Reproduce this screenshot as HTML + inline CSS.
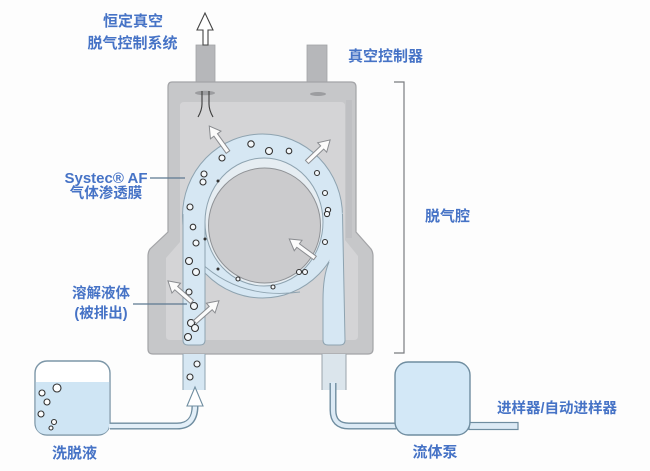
<!DOCTYPE html>
<html><head><meta charset="utf-8"><style>
html,body{margin:0;padding:0;background:#fdfdfd;}
svg{display:block;}
text{font-family:"Liberation Sans","Noto Sans CJK SC",sans-serif;font-weight:bold;fill:#4673c6;}
</style></head><body>
<svg width="650" height="471" viewBox="0 0 650 471" xmlns="http://www.w3.org/2000/svg">
<defs>
<g id="arr"><polygon points="0,-2.2 21,-2.2 21,-6.5 32,0 21,6.5 21,2.2 0,2.2" fill="#fbfbfb" stroke="#8a8c90" stroke-width="1"/></g>
</defs>
<rect width="650" height="471" fill="#fdfdfd"/>

<!-- top tubes -->
<rect x="196" y="45" width="19" height="40" fill="#b6b7ba" stroke="#a2a3a6" stroke-width="0.8"/>
<rect x="307" y="45" width="20" height="40" fill="#b6b7ba" stroke="#a2a3a6" stroke-width="0.8"/>
<!-- top arrow -->
<polygon points="203,45 203,30 197,30 205,13 213,30 208,30 208,45" fill="#fff" stroke="#444" stroke-width="1.1"/>

<!-- chamber -->
<path d="M172,82 H351 Q356,82 356,87 V232 L371,249 Q373,252 373,256 V349 Q373,354 368,354 H153 Q148,354 148,349 V256 Q148,252 150,249 L168,232 V87 Q168,82 172,82 Z" fill="#c6c7c9" stroke="#a3a4a7" stroke-width="1.2"/>
<path d="M184,102 H341 Q345,102 345,106 V240 L358,256 V336 Q358,340 354,340 H170 Q166,340 166,336 V258 L180,242 V106 Q180,102 184,102 Z" fill="#d4d4d6"/>
<rect x="346" y="100" width="6" height="138" fill="#bfc0c3"/>

<!-- funnel & slot -->
<ellipse cx="205" cy="93" rx="10" ry="2.3" fill="#9c9da0"/>
<path d="M202,91 V104 Q202,110 198,117 M209,91 V104 Q209,110 213,117" fill="none" stroke="#3c3c3c" stroke-width="1.1"/>
<ellipse cx="318" cy="94" rx="8" ry="2" fill="#9c9da0"/>

<!-- ring outer -->
<ellipse cx="262.5" cy="216" rx="80" ry="82" fill="#d6e7f3" stroke="#8ea3b0" stroke-width="1"/>
<!-- second coil edge along bottom -->
<path d="M200,262 Q240,300 300,292" fill="none" stroke="#8ea3b0" stroke-width="0.9"/>
<!-- left tube -->
<path d="M183,216 V340 Q183,345 188,345 H200 Q205,345 205,340 V222 Z" fill="#d6e7f3"/>
<line x1="183" y1="214" x2="183" y2="340" stroke="#8ea3b0" stroke-width="1"/>
<line x1="205" y1="222" x2="205" y2="340" stroke="#8ea3b0" stroke-width="1"/>
<path d="M183,340 Q183,345 188,345 H200 Q205,345 205,340" fill="none" stroke="#8ea3b0" stroke-width="1"/>
<!-- right tube -->
<path d="M342.5,212 L345,340 Q345,345 340,345 H328 Q323,345 323,340 V300 Q323,276 329,262 Z" fill="#d6e7f3"/>
<path d="M342.5,214 L345,340 Q345,345 340,345 H328 Q323,345 323,340 V300 Q323,276 329,262" fill="none" stroke="#8ea3b0" stroke-width="1"/>
<!-- inner band edge + crescent -->
<ellipse cx="264" cy="222" rx="59" ry="64" fill="#e6edf2" stroke="#8ea3b0" stroke-width="1"/>
<ellipse cx="264.5" cy="225.5" rx="56" ry="57.5" fill="#cbcbcd" stroke="#8f9296" stroke-width="1"/>

<!-- bottom tubes outside -->
<rect x="183" y="354" width="22" height="36" fill="#d6e7f3"/>
<line x1="183" y1="354" x2="183" y2="390" stroke="#8ea3b0"/>
<line x1="205" y1="354" x2="205" y2="390" stroke="#8ea3b0"/>
<rect x="322" y="354" width="24" height="36" fill="#dbe5ec"/>
<line x1="322" y1="354" x2="322" y2="390" stroke="#9aa3aa"/>
<line x1="346" y1="354" x2="346" y2="390" stroke="#9aa3aa"/>

<!-- bubbles -->
<g fill="#f4f8fb" stroke="#333" stroke-width="1.1">
<circle cx="251" cy="144" r="3.2"/><circle cx="269" cy="151" r="3.5"/><circle cx="289" cy="151" r="2.8"/>
<circle cx="222" cy="158" r="3"/><circle cx="204" cy="174" r="3"/><circle cx="203" cy="182" r="3"/>
<circle cx="190" cy="207" r="3"/><circle cx="193" cy="227" r="2.8"/><circle cx="317" cy="173" r="2.5"/>
<circle cx="325" cy="193" r="2.5"/><circle cx="328" cy="210" r="2.6"/><circle cx="327" cy="214" r="2.6"/>
<circle cx="325" cy="242" r="2.5"/><circle cx="299" cy="272" r="2.5"/><circle cx="305" cy="272" r="2.5"/>
<circle cx="196" cy="243" r="3"/><circle cx="189" cy="261" r="3.5"/><circle cx="196" cy="272" r="3.5"/>
<circle cx="189" cy="292" r="3"/><circle cx="194" cy="306" r="3.5"/><circle cx="191" cy="323" r="3.5"/>
<circle cx="195" cy="328" r="3.5"/><circle cx="188" cy="337" r="3.5"/><circle cx="197" cy="364" r="3"/>
<circle cx="190" cy="377" r="3"/><circle cx="238" cy="279" r="2"/><circle cx="273" cy="287" r="2"/>
</g>
<g fill="#333"><circle cx="218" cy="181" r="1.5"/><circle cx="205" cy="239" r="1.5"/><circle cx="218" cy="269" r="1.5"/></g>

<!-- diagonal arrows -->
<use href="#arr" transform="translate(228,152) rotate(-125.8)"/>
<use href="#arr" transform="translate(307,162) rotate(-43.7)"/>
<use href="#arr" transform="translate(315,258) rotate(-143.5)"/>
<use href="#arr" transform="translate(192,302) rotate(-138.7)"/>
<use href="#arr" transform="translate(195,322) rotate(-41.6)"/>

<!-- bracket -->
<path d="M394,82 H404 V353 H394" fill="none" stroke="#7a7c80" stroke-width="1.2"/>
<!-- leaders -->
<line x1="150" y1="178" x2="185" y2="178" stroke="#5d7891" stroke-width="1.3"/>
<line x1="133" y1="304" x2="187" y2="304" stroke="#5d7891" stroke-width="1.3"/>

<!-- reservoir -->
<rect x="35" y="361" width="75" height="74" rx="12" fill="#fff" stroke="#7d97a8" stroke-width="1.4"/>
<path d="M35.7,382 H109.3 V423 Q109.3,434.3 98,434.3 H47 Q35.7,434.3 35.7,423 Z" fill="#cfe5f4"/>
<g fill="#fff" stroke="#333" stroke-width="1.1">
<circle cx="57" cy="388" r="4"/><circle cx="42" cy="393" r="3"/><circle cx="47" cy="402" r="3"/>
<circle cx="41" cy="414" r="3"/><circle cx="54" cy="422" r="2.5"/><circle cx="51" cy="428" r="2"/>
</g>
<!-- left pipe -->
<path d="M110,426 H177 Q195,426 195,406" fill="none" stroke="#6f8da0" stroke-width="7"/>
<path d="M109,426 H177 Q195,426 195,405" fill="none" stroke="#e3eff8" stroke-width="4.2"/>
<polygon points="192.5,406 187,406 195,387 203,406 197.5,406" fill="#fff" stroke="#6f8da0" stroke-width="1.1"/>

<!-- pump -->
<path d="M333,383 V410 Q333,426 349,426 H396" fill="none" stroke="#6f8da0" stroke-width="7"/>
<path d="M333,382 V410 Q333,426 349,426 H396" fill="none" stroke="#dceaf5" stroke-width="4.2"/>
<rect x="469" y="422.5" width="49" height="7" fill="#dceaf5" stroke="#6f8da0" stroke-width="1.2"/>
<rect x="395" y="362" width="75" height="73" rx="13" fill="#d3e8f7" stroke="#6f8da0" stroke-width="1.4"/>

<!-- text -->
<text x="133" y="26" font-size="15" text-anchor="middle">恒定真空</text>
<text x="132.5" y="48" font-size="15" text-anchor="middle">脱气控制系统</text>
<text x="348" y="61" font-size="15">真空控制器</text>
<text x="106" y="183" font-size="15" text-anchor="middle">Systec® AF</text>
<text x="106" y="198" font-size="14.5" text-anchor="middle">气体渗透膜</text>
<text x="101" y="298" font-size="14.5" text-anchor="middle">溶解液体</text>
<text x="101" y="318" font-size="14.5" text-anchor="middle">(被排出)</text>
<text x="425" y="221" font-size="15">脱气腔</text>
<text x="74.5" y="458" font-size="15" text-anchor="middle">洗脱液</text>
<text x="435" y="457" font-size="15" text-anchor="middle">流体泵</text>
<text x="497" y="413" font-size="14.5">进样器/自动进样器</text>
</svg>
</body></html>
